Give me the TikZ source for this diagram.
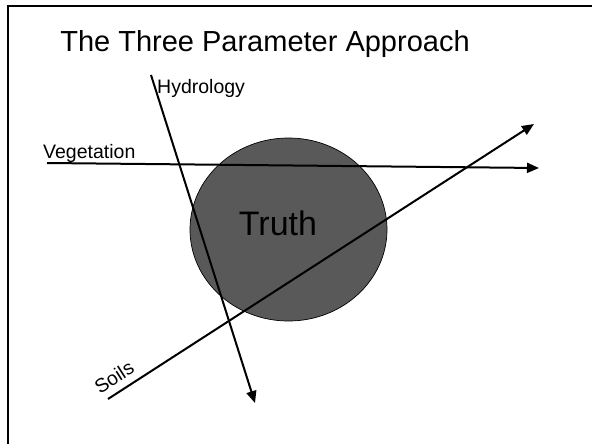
\documentclass[tikz,border=0pt]{standalone}
\usepackage{fontspec}
\setmainfont{Liberation Sans}
\usepackage{xcolor}
\usepackage{tikz}
\usetikzlibrary{arrows.meta,shapes.geometric}
\definecolor{truthgrey}{RGB}{89,89,89}
\definecolor{framegrey}{RGB}{0,0,0}
\tikzset{
  slideframe/.style={draw=framegrey,line width=2.6pt},
  titletext/.style={font=\fontsize{29}{34}\selectfont,inner sep=0pt},
  truthdisc/.style={ellipse,draw=black,line width=0.7pt,fill=truthgrey,
    minimum width=197pt,minimum height=183pt,inner sep=0pt},
  truthtext/.style={font=\fontsize{34}{40}\selectfont,inner sep=0pt},
  param/.style={-{Triangle[length=12pt,width=10pt]},line width=2pt,draw=black},
  paramlabel/.style={font=\fontsize{19.5}{23}\selectfont,inner sep=1pt}
}

\begin{document}
\begin{tikzpicture}[x=1pt,y=-1pt]
  \useasboundingbox (0,0) rectangle (592,444);
  \draw[slideframe] (8,444) |- (592,6);
  \node[titletext] (title) at (265,44) {The Three Parameter Approach};
  \node[truthdisc] (truth) at (288.5,229.5) {};
  \node[truthtext] (truthlabel) at (278,223) {Truth};
  % the three parameters
  \coordinate (hydrostart) at (151,75);
  \coordinate (hydroend) at (255,403);
  \coordinate (vegstart) at (47,163);
  \coordinate (vegend) at (539,168);
  \coordinate (soilstart) at (108,399);
  \coordinate (soilend) at (534,124);
  \draw[param] (vegstart) -- (vegend);
  \draw[param] (soilstart) -- (soilend);
  \draw[param] (hydrostart) -- (hydroend);
  \node[paramlabel,anchor=base west] (hydrolabel) at (156,93) {Hydrology};
  \node[paramlabel,anchor=base west] (veglabel) at (42,158) {Vegetation};
  \node[paramlabel,rotate=32.8] (soillabel) at (114,377) {Soils};
\end{tikzpicture}
\end{document}
